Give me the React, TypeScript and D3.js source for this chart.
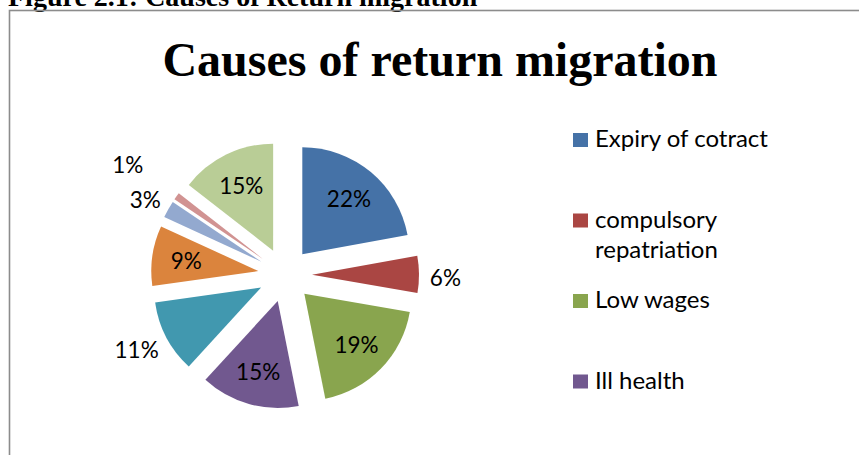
import React from 'react';
import * as d3 from 'd3';

const categories = [
  'Expiry of cotract',
  'compulsory repatriation',
  'Low wages',
  'Ill health',
  'Slice 5',
  'Slice 6',
  'Slice 7',
  'Slice 8',
  'Slice 9',
];
const values = [22.2, 5.6, 19.2, 15.0, 11.0, 9.1, 2.6, 1.1, 14.5];
const labels = ['22%', '6%', '19%', '15%', '11%', '9%', '3%', '1%', '15%'];
const legendLines = [['Expiry of cotract'], ['compulsory', 'repatriation'], ['Low wages'], ['Ill health']];
const caption = 'Figure 2.1: Causes of Return migration';
const title = 'Causes of return migration';

const COLORS = ['#4572A7', '#AA4643', '#89A54E', '#71588F', '#4198AF', '#DB843D', '#93A9CF', '#D19392', '#B9CD96'];
const OUTSIDE = new Set([1, 4, 6, 7]);

const W = 859;
const H = 455;
const CX = 285;
const CY = 275;
const R = 107;
const EXPLODE = 27;
const LABEL_FONT = 'Lato, "Open Sans", sans-serif';
const LABEL_SIZE = 22.5;
const CHAR_W = 0.64; // approx width per char (em) for % labels

export default function App() {
  const data = values.map((v, i) => ({ v, i, name: categories[i] }));
  const pie = d3.pie<any>().sort(null).value((d: any) => d.v).startAngle(0).endAngle(2 * Math.PI);
  const arcs = pie(data);
  const arcGen = d3.arc<any>().innerRadius(0).outerRadius(R);

  const outsidePlaced: { x: number; y: number }[] = [];
  const items = arcs.map((a) => {
    const mid = (a.startAngle + a.endAngle) / 2;
    const dx = Math.sin(mid);
    const dy = -Math.cos(mid);
    const tx = CX + EXPLODE * dx;
    const ty = CY + EXPLODE * dy;
    let lx = 0;
    let ly = 0;
    if (OUTSIDE.has(a.data.i)) {
      const w = labels[a.data.i].length * CHAR_W * LABEL_SIZE;
      const h = 15;
      let r = R + 12;
      const place = () => {
        lx = tx + r * dx + (dx * w) / 2;
        ly = ty + r * dy + (dy * h) / 2 + (dy > 0.2 || Math.abs(dy) < 0.2 ? 3 : 0);
      };
      place();
      let guard = 0;
      while (outsidePlaced.some((p) => Math.hypot(p.x - lx, p.y - ly) < 39) && guard < 100) {
        r += 1;
        place();
        guard++;
      }
      outsidePlaced.push({ x: lx, y: ly });
    } else {
      const r = R * 0.68;
      lx = tx + r * dx;
      ly = ty + r * dy;
    }
    return { a, tx, ty, lx, ly };
  });

  return (
    <div style={{ position: 'absolute', left: 0, top: 0, width: W, height: H, background: '#fff' }}>
      <svg width={W} height={H} viewBox={`0 0 ${W} ${H}`} style={{ display: 'block' }}>
        <rect x={0} y={0} width={W} height={H} fill="#fff" />
        <text x={8} y={6} fontFamily='"Liberation Serif", "Times New Roman", serif' fontWeight="bold" fontSize={28} fill="#000">
          {caption}
        </text>
        <rect x={9.5} y={10.5} width={W + 20} height={H + 20} fill="none" stroke="#8c8c8c" strokeWidth={1.6} />
        <text x={440} y={76} textAnchor="middle" fontFamily='"Liberation Serif", "Times New Roman", serif' fontWeight="bold" fontSize={48} fill="#000">
          {title}
        </text>
        <g>
          {items.map(({ a, tx, ty }) => (
            <path key={a.data.i} d={arcGen(a) || ''} transform={`translate(${tx},${ty})`} fill={COLORS[a.data.i]} />
          ))}
        </g>
        <g fontFamily={LABEL_FONT} fontSize={LABEL_SIZE} fill="#000">
          {items.map(({ a, lx, ly }) => (
            <text key={a.data.i} x={lx} y={ly} textAnchor="middle" dominantBaseline="central">
              {labels[a.data.i]}
            </text>
          ))}
        </g>
        <g fontFamily={LABEL_FONT} fontSize={24} fill="#000">
          {legendLines.map((lines, i) => {
            const base = 147 + i * 80.5;
            return (
              <g key={i}>
                <rect x={573} y={base - 14} width={15} height={14} fill={COLORS[i]} />
                {lines.map((ln, j) => (
                  <text key={j} x={595} y={base + j * 30}>
                    {ln}
                  </text>
                ))}
              </g>
            );
          })}
        </g>
      </svg>
    </div>
  );
}
